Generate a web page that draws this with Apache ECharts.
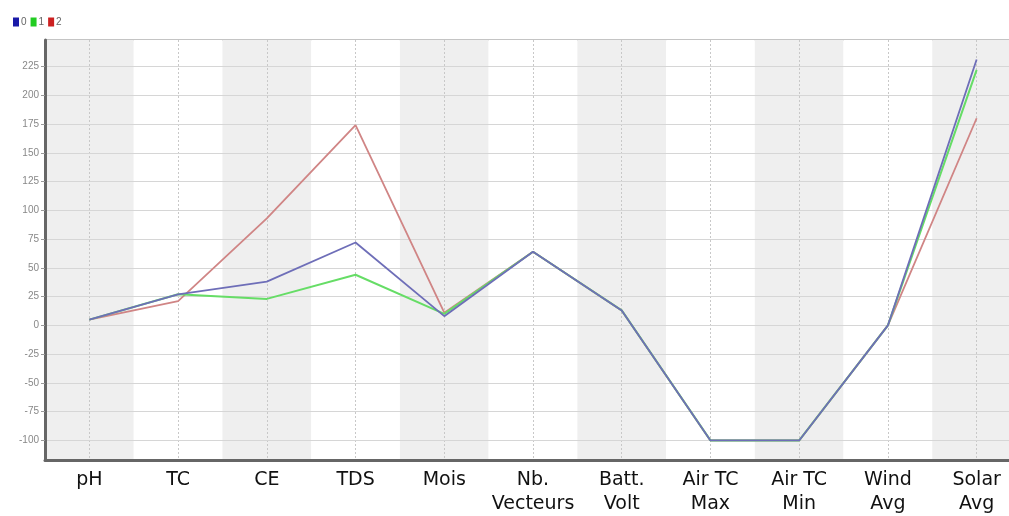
<!DOCTYPE html>
<html><head><meta charset="utf-8">
<script src="https://cdn.jsdelivr.net/npm/echarts@6/dist/echarts.min.js"></script>
<style>html,body{margin:0;padding:0;background:#fff;overflow:hidden}#c{width:1021px;height:516px}</style>
</head><body><div id="c"></div>
<script>
const categories = ['pH','TC','CE','TDS','Mois','Nb.\nVecteurs','Batt.\nVolt','Air TC\nMax','Air TC\nMin','Wind\nAvg','Solar\nAvg'];
const series0 = [5, 27, 38, 72, 8, 64, 13, -100, -100, 0, 231];
const series1 = [5, 27, 23, 44, 10, 64, 13, -100, -100, 0, 222];
const series2 = [5, 21, 93, 174, 11, 64, 13, -100, -100, 0, 180];
const yTicks = [-100, -75, -50, -25, 0, 25, 50, 75, 100, 125, 150, 175, 200, 225];

const chart = echarts.init(document.getElementById('c'));
chart.setOption({
  animation: false,
  legend: {
    left: 8, top: 12, itemWidth: 6, itemHeight: 9, itemGap: 4,
    textStyle: {fontSize: 10, color: '#666', padding: [0,0,0,-3]},
    data: [
      {name: '0', itemStyle: {color: '#1a1aa8'}, icon: 'rect'},
      {name: '1', itemStyle: {color: '#22cc22'}, icon: 'rect'},
      {name: '2', itemStyle: {color: '#cc2020'}, icon: 'rect'}
    ]
  },
  grid: {left: 45, top: 40, right: 0, bottom: 55, show: true, borderColor: '#888', borderWidth: 1},
  xAxis: {
    type: 'category', data: categories, boundaryGap: true, z: 0,
    axisLine: {onZero: false, lineStyle: {color: '#666', width: 3}},
    axisTick: {show: false},
    axisLabel: {fontSize: 19, color: '#111', lineHeight: 24, margin: 8, fontFamily: 'DejaVu Sans', interval: 0},
    splitArea: {show: true, interval: 0, areaStyle: {color: ['#efefef', '#ffffff']}},
    splitLine: {show: true, interval: 0, alignWithLabel: true, lineStyle: {color: '#c8c8c8', type: [2, 2], width: 1}}
  },
  yAxis: {
    type: 'value', min: -117, max: 248, z: 1,
    axisLine: {show: true, onZero: false, lineStyle: {color: '#666', width: 3}},
    axisTick: {show: true, length: 4, customValues: yTicks, lineStyle: {color: '#999'}},
    axisLabel: {fontSize: 10, color: '#888', customValues: yTicks, margin: 6},
    splitLine: {show: true, lineStyle: {color: '#d6d6d6', width: 1}}
  },
  series: [
    {name: '2', type: 'line', data: series2, symbol: 'none', lineStyle: {color: '#d08585', width: 1.8}, itemStyle: {color: '#cc2020'}},
    {name: '1', type: 'line', data: series1, symbol: 'none', lineStyle: {color: '#66dd66', width: 2}, itemStyle: {color: '#22cc22'}},
    {name: '0', type: 'line', data: series0, symbol: 'none', lineStyle: {color: '#6e6eb8', width: 1.8}, itemStyle: {color: '#1a1aa8'}}
  ]
});
</script>
</body></html>
